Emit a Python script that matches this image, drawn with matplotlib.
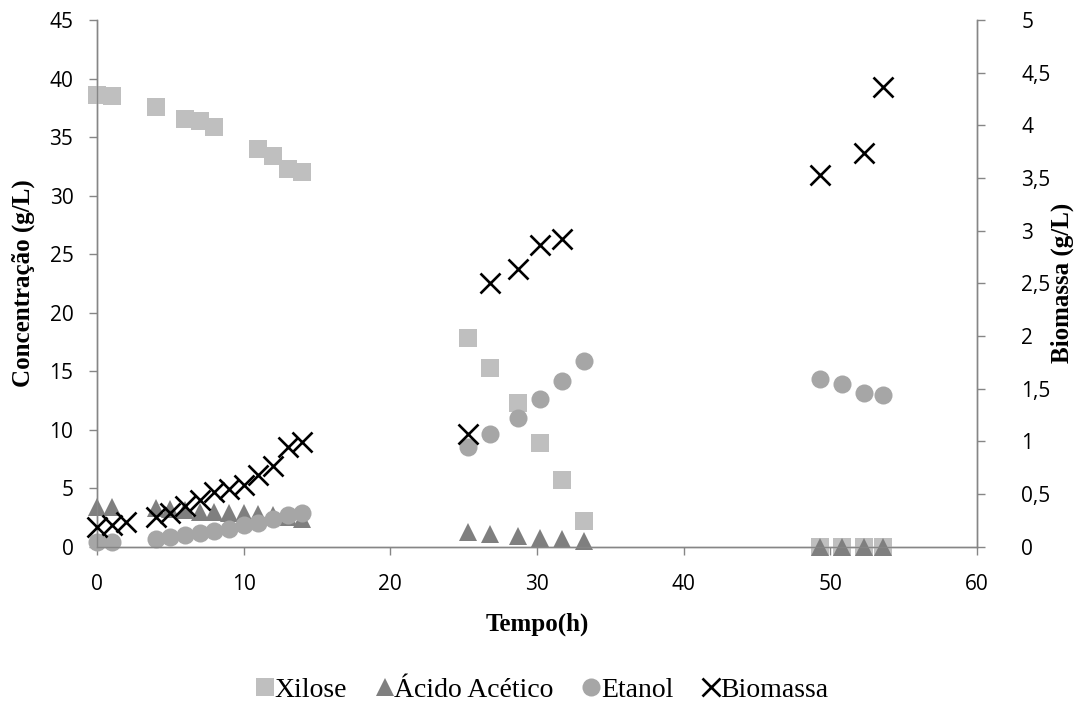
import matplotlib
matplotlib.use("Agg")
import matplotlib.pyplot as plt
from matplotlib.ticker import FuncFormatter, MultipleLocator
from matplotlib.lines import Line2D

# Sampling times (h) and measured concentrations (g/L)
t_xilose = [0, 1, 4, 6, 7, 8, 11, 12, 13, 14,
            25.3, 26.8, 28.7, 30.2, 31.7, 33.2,
            49.3, 50.8, 52.3, 53.6]
xilose = [38.6, 38.5, 37.6, 36.5, 36.4, 35.9, 34.0, 33.4, 32.3, 32.0,
          17.85, 15.3, 12.3, 8.9, 5.66, 2.16,
          0, 0, 0, 0]

t_acido = [0, 1, 4, 5, 6, 7, 8, 9, 10, 11, 12, 13, 14,
           25.3, 26.8, 28.7, 30.2, 31.7, 33.2,
           49.3, 50.8, 52.3, 53.6]
acido = [3.4, 3.4, 3.3, 3.2, 3.1, 3.0, 2.95, 2.9, 2.85, 2.8, 2.7, 2.55, 2.4,
         1.28, 1.1, 0.95, 0.77, 0.64, 0.49,
         0, 0, 0, 0]

t_etanol = [0, 1, 4, 5, 6, 7, 8, 9, 10, 11, 12, 13, 14,
            25.3, 26.8, 28.7, 30.2, 31.7, 33.2,
            49.3, 50.8, 52.3, 53.6]
etanol = [0.43, 0.43, 0.7, 0.85, 1.0, 1.15, 1.35, 1.55, 1.85, 2.0, 2.4, 2.7, 2.9,
          8.5, 9.67, 11.0, 12.6, 14.15, 15.86,
          14.3, 13.9, 13.16, 13.0]

t_biomassa = [0, 1, 2, 4, 5, 6, 7, 8, 9, 10, 11, 12, 13, 14,
              25.3, 26.8, 28.7, 30.2, 31.7,
              49.3, 52.3, 53.6]
biomassa = [0.19, 0.21, 0.23, 0.28, 0.32, 0.39, 0.44, 0.52, 0.55, 0.59, 0.68, 0.77, 0.95, 0.99,
            1.07, 2.50, 2.64, 2.86, 2.92,
            3.53, 3.74, 4.36]

C_XIL = "#BFBFBF"
C_ACI = "#7F7F7F"
C_ETA = "#A6A6A6"
C_BIO = "#000000"
SPINE = "#868686"

TICK_FONT = "Open Sans"
SERIF = "Liberation Serif"

fig = plt.figure(figsize=(10.75, 7.07), dpi=100)
ax = fig.add_axes([97 / 1075, 1 - 546.7 / 707, (977 - 97) / 1075, (546.7 - 20) / 707])
ax2 = ax.twinx()

ms = 13
ax.plot(t_xilose, xilose, ls="none", marker="s", ms=ms, color=C_XIL, mew=0, clip_on=False, zorder=3)
ax.plot(t_acido, acido, ls="none", marker="^", ms=ms, color=C_ACI, mew=0, clip_on=False, zorder=4)
ax.plot(t_etanol, etanol, ls="none", marker="o", ms=ms, color=C_ETA, mew=0, clip_on=False, zorder=5)
ax2.plot(t_biomassa, biomassa, ls="none", marker="x", ms=14.5, mew=1.9, color=C_BIO, clip_on=False, zorder=6)

ax.set_xlim(0, 60)
ax.set_ylim(0, 45)
ax2.set_ylim(0, 5)
ax.xaxis.set_major_locator(MultipleLocator(10))
ax.yaxis.set_major_locator(MultipleLocator(5))
ax2.yaxis.set_major_locator(MultipleLocator(0.5))
ax2.yaxis.set_major_formatter(FuncFormatter(lambda v, p: ("%g" % v).replace(".", ",")))

for a in (ax, ax2):
    for s in a.spines.values():
        s.set_color(SPINE)
        s.set_linewidth(1.0)
    a.spines["top"].set_visible(False)
    a.tick_params(colors=SPINE, length=6, width=1.0, direction="out")
    for lab in a.get_xticklabels() + a.get_yticklabels():
        lab.set_fontfamily(TICK_FONT)
        lab.set_fontsize(15)
        lab.set_color("black")

ax.tick_params(axis="y", pad=11)
ax.tick_params(axis="x", pad=14)
ax2.tick_params(axis="y", pad=26)

label_kw = dict(fontfamily=SERIF, fontsize=18, fontweight="bold", color="black")
ax.set_xlabel("Tempo(h)", labelpad=12, **label_kw)
ax.set_ylabel("Concentração (g/L)", labelpad=10, **label_kw)
ax2.set_ylabel("Biomassa (g/L)", rotation=90, ha="center", va="center", **label_kw)
ax2.yaxis.set_label_coords((1062 - 97) / 880, 0.5)

handles = [
    Line2D([], [], ls="none", marker="s", ms=ms, color=C_XIL, mew=0),
    Line2D([], [], ls="none", marker="^", ms=ms, color=C_ACI, mew=0),
    Line2D([], [], ls="none", marker="o", ms=ms, color=C_ETA, mew=0),
    Line2D([], [], ls="none", marker="x", ms=13, mew=1.9, color=C_BIO),
]
labels = ["Xilose", "Ácido Acético", "Etanol", "Biomassa"]
fig.legend(handles, labels, loc="center", bbox_to_anchor=(542 / 1075, 1 - 690 / 707),
           ncol=4, frameon=False, prop={"family": SERIF, "size": 20},
           handlelength=0.7, handletextpad=0.0, columnspacing=1.0)

fig.savefig("out.png", dpi=100)
